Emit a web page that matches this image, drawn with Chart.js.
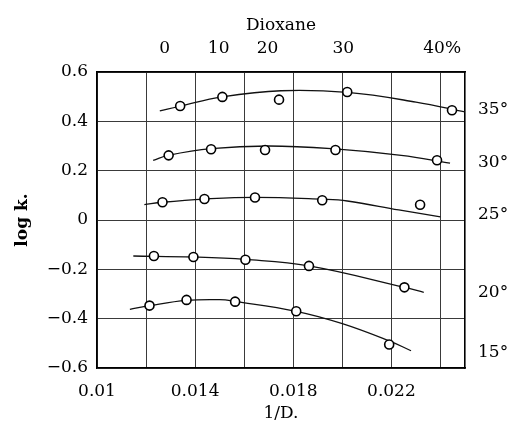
<!DOCTYPE html>
<html>
<head>
<meta charset="utf-8">
<script src="https://cdn.jsdelivr.net/npm/chart.js@4.4.0/dist/chart.umd.min.js"></script>
<style>
  html, body { margin: 0; padding: 0; background: #fff; }
  #wrap { width: 510px; height: 422px; }
</style>
</head>
<body>
<div id="wrap"><canvas id="myChart"></canvas></div>
<script>
// measured points (1/D, log k) for each temperature
const inv35 = [0.01339, 0.01511, 0.01742, 0.02020, 0.02447];
const log35 = [0.462, 0.499, 0.488, 0.519, 0.445];
const inv30 = [0.01292, 0.01465, 0.01685, 0.01972, 0.02386];
const log30 = [0.262, 0.287, 0.284, 0.284, 0.242];
const inv25 = [0.01267, 0.01438, 0.01644, 0.01918, 0.02317];
const log25 = [0.072, 0.085, 0.091, 0.080, 0.062];
const inv20 = [0.01232, 0.01393, 0.01605, 0.01864, 0.02253];
const log20 = [-0.146, -0.150, -0.161, -0.186, -0.273];
const inv15 = [0.01214, 0.01365, 0.01563, 0.01812, 0.02191];
const log15 = [-0.347, -0.324, -0.331, -0.370, -0.505];

// hand drawn curves
const fit35x = [0.01256, 0.0134, 0.0151, 0.0175, 0.0202, 0.0230, 0.0250];
const fit35y = [0.442, 0.462, 0.499, 0.524, 0.517, 0.478, 0.438];
const fit30x = [0.01229, 0.0129, 0.01465, 0.0170, 0.0197, 0.0224, 0.02439];
const fit30y = [0.242, 0.262, 0.289, 0.300, 0.288, 0.262, 0.231];
const fit25x = [0.01193, 0.01267, 0.01438, 0.01644, 0.0192, 0.0202, 0.0223, 0.0240];
const fit25y = [0.062, 0.072, 0.085, 0.092, 0.084, 0.077, 0.041, 0.013];
const fit20x = [0.01148, 0.01393, 0.01605, 0.01864, 0.02253, 0.02332];
const fit20y = [-0.146, -0.150, -0.160, -0.186, -0.273, -0.293];
const fit15x = [0.01134, 0.01214, 0.01365, 0.0150, 0.01563, 0.01812, 0.0200, 0.02191, 0.0228];
const fit15y = [-0.362, -0.347, -0.326, -0.323, -0.330, -0.370, -0.420, -0.490, -0.530];

// axes
const xGrid = [0.010, 0.012, 0.014, 0.016, 0.018, 0.020, 0.022, 0.024];
const xTickLabels = ['0.01', '', '0.014', '', '0.018', '', '0.022', ''];
const yGrid = [-0.6, -0.4, -0.2, 0, 0.2, 0.4, 0.6];
const yTickLabels = ['\u22120.6', '\u22120.4', '\u22120.2', '0', '0.2', '0.4', '0.6'];
const dioxanePos = [0.01276, 0.01496, 0.01695, 0.02004, 0.02407];
const dioxaneLabels = ['0', '10', '20', '30', '40%'];
const tempPos = [0.446, 0.231, 0.020, -0.296, -0.539];
const tempLabels = ['35\u00b0', '30\u00b0', '25\u00b0', '20\u00b0', '15\u00b0'];

const pts = (xs, ys) => xs.map((x, i) => ({ x: x, y: ys[i] }));

Chart.defaults.font.family = '"DejaVu Serif", serif';
Chart.defaults.font.size = 17;
Chart.defaults.color = '#000';

const series = [[inv35, log35], [inv30, log30], [inv25, log25], [inv20, log20], [inv15, log15]];
const curves = [[fit35x, fit35y], [fit30x, fit30y], [fit25x, fit25y], [fit20x, fit20y], [fit15x, fit15y]];

let datasets = [];
series.forEach(s => {
  datasets.push({
    data: pts(s[0], s[1]),
    showLine: false,
    pointRadius: 4.5,
    pointBackgroundColor: '#fff',
    pointBorderColor: '#000',
    pointBorderWidth: 1.6,
    order: 0
  });
});
curves.forEach(c => {
  datasets.push({
    data: pts(c[0], c[1]),
    showLine: true,
    borderColor: '#111',
    borderWidth: 1.3,
    pointRadius: 0,
    tension: 0.4,
    order: 1
  });
});

const gridColor = '#3a3a3a';

new Chart(document.getElementById('myChart'), {
  type: 'scatter',
  data: { datasets: datasets },
  options: {
    animation: false,
    maintainAspectRatio: false,
    responsive: true,
    layout: { padding: 0 },
    plugins: { legend: { display: false }, tooltip: { enabled: false } },
    scales: {
      x: {
        type: 'linear',
        position: 'bottom',
        min: 0.01,
        max: 0.025,
        afterBuildTicks: axis => { axis.ticks = xGrid.map(v => ({ value: v })); },
        afterFit: axis => { axis.height = 54; },
        ticks: {
          autoSkip: false,
          maxRotation: 0,
          padding: 13,
          callback: (v, i) => xTickLabels[i]
        },
        grid: { color: gridColor, lineWidth: 1, drawTicks: false },
        border: { display: true, color: '#000', width: 1.6 },
        title: {
          display: true,
          text: '1/D.',
          padding: 0,
          font: { size: 17, lineHeight: 1 }
        }
      },
      xTop: {
        type: 'linear',
        position: 'top',
        min: 0.01,
        max: 0.025,
        afterBuildTicks: axis => { axis.ticks = dioxanePos.map(v => ({ value: v })); },
        afterFit: axis => { axis.height = 72; },
        ticks: {
          autoSkip: false,
          maxRotation: 0,
          padding: 13,
          callback: (v, i) => dioxaneLabels[i]
        },
        grid: { display: false, drawTicks: false },
        border: { display: true, color: '#000', width: 1.6 },
        title: {
          display: true,
          text: 'Dioxane',
          padding: { top: 17, bottom: 0 },
          font: { size: 17, lineHeight: 1 }
        }
      },
      y: {
        type: 'linear',
        position: 'left',
        min: -0.6,
        max: 0.6,
        afterBuildTicks: axis => { axis.ticks = yGrid.map(v => ({ value: v })); },
        afterFit: axis => { axis.width = 97; },
        ticks: {
          autoSkip: false,
          padding: 9,
          callback: (v, i) => yTickLabels[i]
        },
        grid: { color: gridColor, lineWidth: 1, drawTicks: false },
        border: { display: true, color: '#000', width: 1.6 },
        title: {
          display: true,
          text: 'log k.',
          padding: { top: 14, bottom: 0 },
          font: { size: 17, weight: 'bold', lineHeight: 1 }
        }
      },
      yRight: {
        type: 'linear',
        position: 'right',
        min: -0.6,
        max: 0.6,
        afterBuildTicks: axis => { axis.ticks = tempPos.map(v => ({ value: v })); },
        afterFit: axis => { axis.width = 45; },
        ticks: {
          autoSkip: false,
          padding: 13,
          callback: (v, i) => tempLabels[i]
        },
        grid: { display: false, drawTicks: false },
        border: { display: true, color: '#000', width: 1.6 }
      }
    }
  }
});
</script>
</body>
</html>
